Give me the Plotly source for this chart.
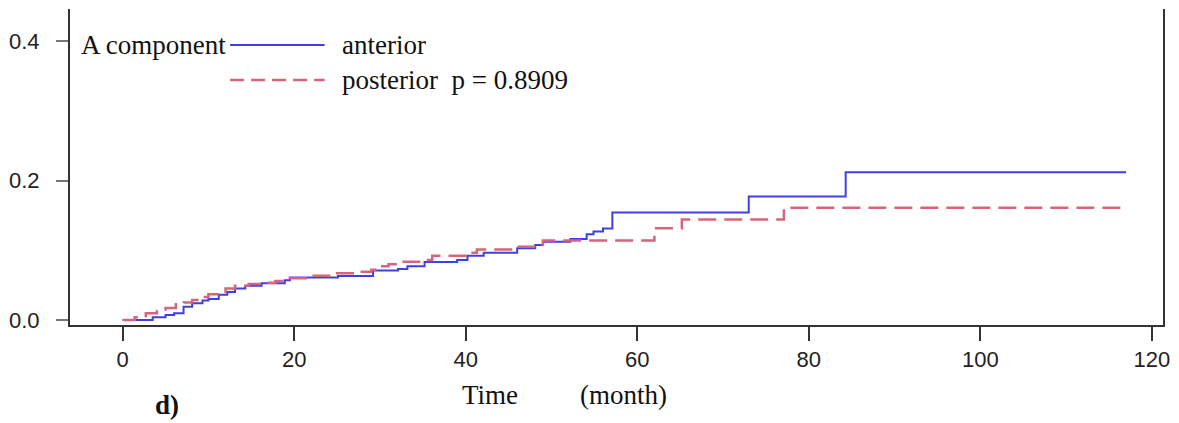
import plotly.graph_objects as go

# Cumulative incidence, A component, by location
ant_t = [0, 3.5, 5, 6, 7.1, 8.1, 9.3, 10, 11.2, 12.2, 13.1, 14.3, 16.2, 18.9, 19.5,
         25.1, 29.2, 32.1, 33.2, 35.2, 39, 40.2, 42.1, 46, 48.1, 49, 52.2, 54.1,
         54.9, 56, 57.1, 73, 84.3, 117]
ant_v = [0, 0.004, 0.007, 0.0096, 0.019, 0.024, 0.028, 0.030, 0.036, 0.040, 0.045,
         0.049, 0.0526, 0.057, 0.061, 0.063, 0.071, 0.073, 0.077, 0.083, 0.086,
         0.092, 0.0965, 0.103, 0.1075, 0.112, 0.116, 0.123, 0.127, 0.131, 0.154,
         0.177, 0.212, 0.212]

post_t = [0, 1.4, 2.7, 4, 5, 6.2, 7.1, 8.1, 9.3, 10, 12, 13.1, 14.7, 16.2, 17.8,
          19.5, 22, 25, 27.5, 29, 30.1, 31, 32.2, 35.1, 36.1, 40.2, 41.3, 46, 49,
          62, 65.2, 77.1, 117.2]
post_v = [0, 0.004, 0.0096, 0.013, 0.017, 0.0225, 0.025, 0.0287, 0.033, 0.037,
          0.045, 0.049, 0.0516, 0.0535, 0.056, 0.0597, 0.0635, 0.067, 0.069, 0.072,
          0.077, 0.080, 0.0836, 0.086, 0.092, 0.0965, 0.101, 0.105, 0.114, 0.1315,
          0.144, 0.161, 0.161]

x_ticks = [0, 20, 40, 60, 80, 100, 120]
y_ticks = [0.0, 0.2, 0.4]
y_tick_text = ["0.0", "0.2", "0.4"]

BLUE = "#3f3fe8"
RED = "#d6647a"
SERIF = "Liberation Serif, Times New Roman, serif"
SANS = "Liberation Sans, Arial, sans-serif"

fig = go.Figure()
fig.add_trace(go.Scatter(x=ant_t, y=ant_v, mode="lines", line_shape="hv",
                         line=dict(color=BLUE, width=2), name="anterior"))
fig.add_trace(go.Scatter(x=post_t, y=post_v, mode="lines", line_shape="hv",
                         line=dict(color=RED, width=2.5, dash="18px,8px"),
                         name="posterior"))

fig.update_layout(
    width=1179, height=423,
    margin=dict(l=67, r=13, t=9, b=98),
    paper_bgcolor="white", plot_bgcolor="white",
    showlegend=False,
    xaxis=dict(range=[-6.14, 121.3], tickvals=x_ticks, showgrid=False, zeroline=False,
               showline=True, linecolor="#333333", linewidth=2,
               ticks="outside", ticklen=14, tickwidth=1.5, tickcolor="#333333",
               ticklabelstandoff=0,
               tickfont=dict(family=SANS, size=22, color="#222222")),
    yaxis=dict(range=[-0.0072, 0.4459], tickvals=y_ticks, ticktext=y_tick_text,
               showgrid=False, zeroline=False,
               showline=True, linecolor="#333333", linewidth=2, mirror=True,
               ticks="outside", ticklen=12, tickwidth=2, tickcolor="#777777",
               ticklabelstandoff=12,
               tickfont=dict(family=SANS, size=22, color="#222222")),
)

# Legend drawn as text with sample lines
def px_x(p):
    return (p - 67) / 1099

def px_y(p):
    return (325 - p) / 316

fig.add_shape(type="line", xref="paper", yref="paper",
              x0=px_x(228), x1=px_x(323), y0=px_y(45), y1=px_y(45),
              line=dict(color=BLUE, width=2))
fig.add_shape(type="line", xref="paper", yref="paper",
              x0=px_x(228), x1=px_x(323), y0=px_y(80), y1=px_y(80),
              line=dict(color=RED, width=2.5, dash="14px,7px"))

ann_font = dict(family=SERIF, size=27, color="#111111")
fig.add_annotation(text="A component", xref="paper", yref="paper",
                   x=px_x(76), y=px_y(45), xanchor="left", yanchor="middle",
                   showarrow=False, font=ann_font)
fig.add_annotation(text="anterior", xref="paper", yref="paper",
                   x=px_x(338), y=px_y(45), xanchor="left", yanchor="middle",
                   showarrow=False, font=ann_font)
fig.add_annotation(text="posterior  p = 0.8909", xref="paper", yref="paper",
                   x=px_x(338), y=px_y(80), xanchor="left", yanchor="middle",
                   showarrow=False, font=ann_font)

fig.add_annotation(text="Time", xref="paper", yref="paper",
                   x=px_x(489), y=px_y(395), xanchor="center", yanchor="middle",
                   showarrow=False, font=ann_font)
fig.add_annotation(text="(month)", xref="paper", yref="paper",
                   x=px_x(624), y=px_y(395), xanchor="center", yanchor="middle",
                   showarrow=False, font=ann_font)
fig.add_annotation(text="<b>d)</b>", xref="paper", yref="paper",
                   x=px_x(165), y=px_y(405), xanchor="center", yanchor="middle",
                   showarrow=False, font=ann_font)

fig.write_html("out.html")
